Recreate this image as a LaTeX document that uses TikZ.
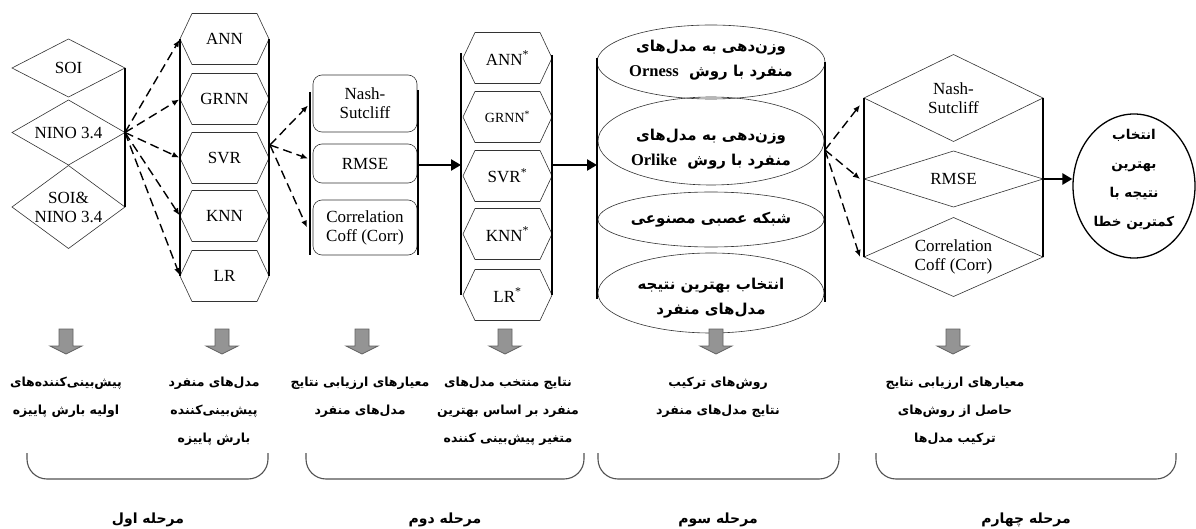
\documentclass[tikz,border=0pt]{standalone}
\usepackage{fontspec}
\setmainfont{Liberation Serif}
\newfontfamily\arabicfont[Script=Arabic]{DejaVu Sans}
\TeXXeTstate=1
\usetikzlibrary{shapes.geometric,arrows.meta,calc}
\newcommand{\rtl}[1]{\beginR #1\endR}
\newcommand{\latb}[1]{\beginL{\rmfamily\bfseries\fontsize{16.5}{18}\selectfont #1}\endL}
\newcommand{\dmd}[3]{\draw[shapeline, shift={(#1.center)}] (-#2,0) coordinate (#1-w) -- (0,-#3) -- (#2,0) coordinate (#1-e) -- (0,#3) -- cycle;}
\newcommand{\hexa}[1]{\draw[shapeline, shift={(#1.center)}] (-44.5,0) coordinate (#1-w) -- (-32.5,-25.5) -- (32.5,-25.5) -- (44.5,0) coordinate (#1-e) -- (32.5,25.5) -- (-32.5,25.5) -- cycle;}
\newcommand{\garrow}[2]{\draw[grayarr, shift={(#1,#2)}] (-7,0) -- (7,0) -- (7,17) -- (16,17) -- (0,25) -- (-16,17) -- (-7,17) -- cycle;}
\tikzset{
 shapeline/.style={draw=black!80, line width=0.6pt},
 colline/.style={line width=1.6pt, draw=black},
 dasharrow/.style={line width=1.4pt, dash pattern=on 9pt off 5pt, -{Latex[length=7pt,width=6pt]}},
 thickarrow/.style={line width=2.8pt, -{Triangle[length=10pt,width=11pt]}},
 lat/.style={font=\fontsize{17}{19}\selectfont, inner sep=0pt, align=center},
 latsm/.style={font=\fontsize{14}{16}\selectfont, inner sep=0pt, align=center},
 fa/.style={font=\arabicfont\bfseries\fontsize{12.5}{28}\selectfont, inner sep=0pt, align=center},
 facyl/.style={font=\arabicfont\bfseries\fontsize{15}{25}\selectfont, inner sep=0pt, align=center},
 stage/.style={font=\arabicfont\bfseries\fontsize{14}{16}\selectfont, inner sep=0pt},
 grayarr/.style={fill=black!42, draw=black!62, line width=0.8pt},
 bracket/.style={draw=black!68, line width=1.1pt, rounded corners=20pt},
 roundbox/.style={draw=black!80, line width=0.6pt, rounded corners=9pt, minimum width=104pt, inner sep=0pt, lat},
}
\begin{document}
\begin{tikzpicture}[x=1pt,y=-1pt]
\useasboundingbox (0,0) rectangle (1196,529);
\fill[white] (0,0) rectangle (1196,529);

% ---- column 1: predictors (diamonds)
\node[lat] (soi) at (68.5,68) {SOI};
\node[lat] (nino) at (68.5,132.5) {NINO 3.4};
\node[lat] (soinino) at (68.5,207) {SOI\&\\NINO 3.4};
\dmd{soi}{56.5}{29}
\dmd{nino}{56.5}{32.5}
\dmd{soinino}{56.5}{41.5}
\draw[colline] (soi-e) -- (soinino-e);

% ---- column 2: individual models
\node[lat] (ann) at (224.5,39) {ANN};
\node[lat] (grnn) at (224.5,99) {GRNN};
\node[lat] (svr) at (224.5,158) {SVR};
\node[lat] (knn) at (224.5,216) {KNN};
\node[lat] (lr) at (224.5,276) {LR};
\hexa{ann}\hexa{grnn}\hexa{svr}\hexa{knn}\hexa{lr}
\draw[colline] (ann-w) -- (lr-w);
\draw[colline] (ann-e) -- (lr-e);

\foreach \t in {ann,grnn,svr,knn,lr}
  \draw[dasharrow, shorten >=1pt] (nino-e) -- (\t-w);

% ---- column 3: evaluation criteria (rounded boxes)
\node[roundbox, minimum height=57pt] (nash) at (365,103.5) {Nash-\\Sutcliff};
\node[roundbox, minimum height=39pt] (rmse) at (365,163.5) {RMSE};
\node[roundbox, minimum height=55pt] (corr) at (365,227.5) {Correlation\\Coff (Corr)};
\coordinate (c3l) at (310,92);
\coordinate (c3lb) at (310,255);
\coordinate (c3r) at (418,90);
\coordinate (c3rb) at (418,255);
\draw[colline] (c3l) -- (c3lb);
\draw[colline] (c3r) -- (c3rb);
\coordinate (svrout) at (270,145);
\draw[dasharrow] (svrout) -- ($(nash.west -| c3l)+(-2,2)$);
\draw[dasharrow] (svrout) -- ($(rmse.west -| c3l)+(-2,-5)$);
\draw[dasharrow] (svrout) -- ($(corr.west -| c3l)+(-3,0)$);

% ---- column 4: selected models
\node[lat] (ann2) at (507.5,58) {ANN\textsuperscript{*}};
\node[latsm] (grnn2) at (507.5,117) {GRNN\textsuperscript{*}};
\node[lat] (svr2) at (507.5,176) {SVR\textsuperscript{*}};
\node[lat] (knn2) at (507.5,234) {KNN\textsuperscript{*}};
\node[lat] (lr2) at (507.5,295) {LR\textsuperscript{*}};
\hexa{ann2}\hexa{grnn2}\hexa{svr2}\hexa{knn2}\hexa{lr2}
\draw[colline] ($(ann2-w)+(-2,-5)$) coordinate (c4l) -- ($(lr2-w)+(-2,0)$);
\draw[colline] ($(ann2-e)+(0,-3)$) coordinate (c4r) -- (lr2-e);
\draw[thickarrow] (418,165) coordinate (a1s) -- (a1s -| c4l);

% ---- column 5: combination methods (cylinder)
\node[ellipse, shapeline, minimum width=228pt, minimum height=74pt, inner sep=0pt] (orness) at (711,62) {};
\node[ellipse, shapeline, minimum width=226pt, minimum height=88pt, inner sep=0pt] (orlike) at (711,141) {};
\node[ellipse, shapeline, minimum width=226pt, minimum height=55pt, inner sep=0pt] (ann3) at (711,219.5) {};
\node[ellipse, shapeline, minimum width=226pt, minimum height=80pt, inner sep=0pt] (best) at (711,293) {};
\node[facyl] (tor) at (711,60) {\rtl{وزن^^^^200cدهی به مدل^^^^200cهای}\\\rtl{منفرد با روش \ \latb{Orness}}};
\node[facyl] (tol) at (711,149.5) {\rtl{وزن^^^^200cدهی به مدل^^^^200cهای}\\\rtl{منفرد با روش \ \latb{Orlike}}};
\node[facyl] (tann) at (711,220) {\rtl{شبکه عصبی مصنوعی}};
\node[facyl] (tbest) at (711,298.5) {\rtl{انتخاب بهترین نتیجه}\\\rtl{مدل^^^^200cهای منفرد}};
\coordinate (cyll) at (597,58);
\coordinate (cyllb) at (597,299);
\coordinate (cylr) at (825,62);
\coordinate (cylrb) at (825,302);
\draw[colline] (cyll) -- (cyllb);
\draw[colline] (cylr) -- (cylrb);
\draw[thickarrow] (c4r |- a1s) coordinate (a2s) -- (a2s -| cyll);

% ---- column 6: evaluation of combination methods (diamonds)
\node[lat] (nash2) at (953.5,98) {Nash-\\Sutcliff};
\node[lat] (rmse2) at (953.5,179) {RMSE};
\node[lat] (corr2) at (953.5,257) {Correlation\\Coff (Corr)};
\dmd{nash2}{89.5}{43.5}
\dmd{rmse2}{89.5}{28}
\dmd{corr2}{89.5}{39.5}
\draw[colline] (nash2-w) -- (corr2-w);
\draw[colline] (nash2-e) -- (corr2-e);
\coordinate (orout) at (825,150);
\draw[dasharrow] (orout) -- ($(nash2-w)+(-4,7)$);
\draw[dasharrow] (orout) -- ($(rmse2-w)+(-4,0)$);
\draw[dasharrow] (orout) -- ($(corr2-w)+(-4,0)$);

% ---- final result
\node[ellipse, draw=black, line width=1.3pt, minimum width=122pt, minimum height=144pt, inner sep=0pt] (final) at (1134,186) {};
\node[fa, font=\arabicfont\bfseries\fontsize{13.5}{29}\selectfont] (tfinal) at (1134,180) {\rtl{انتخاب}\\\rtl{بهترین}\\\rtl{نتیجه با}\\\rtl{کمترین خطا}};
\draw[thickarrow] (rmse2-e) -- (rmse2-e -| final.west);

% ---- gray arrows
\garrow{66}{329}
\garrow{222}{329}
\garrow{362}{329}
\garrow{505}{329}
\garrow{716}{329}
\garrow{953}{329}

% ---- descriptions
\node[fa] (d1) at (66,397) {\rtl{پیش^^^^200cبینی^^^^200cکننده^^^^200cهای}\\\rtl{اولیه بارش پاییزه}};
\node[fa] (d2) at (214,411) {\rtl{مدل^^^^200cهای منفرد}\\\rtl{پیش^^^^200cبینی^^^^200cکننده}\\\rtl{بارش پاییزه}};
\node[fa] (d3) at (360,397) {\rtl{معیارهای ارزیابی نتایج}\\\rtl{مدل^^^^200cهای منفرد}};
\node[fa] (d4) at (508,411) {\rtl{نتایج منتخب مدل^^^^200cهای}\\\rtl{منفرد بر اساس بهترین}\\\rtl{متغیر پیش^^^^200cبینی کننده}};
\node[fa] (d5) at (718,397) {\rtl{روش^^^^200cهای ترکیب}\\\rtl{نتایج مدل^^^^200cهای منفرد}};
\node[fa] (d6) at (955,411) {\rtl{معیارهای ارزیابی نتایج}\\\rtl{حاصل از روش^^^^200cهای}\\\rtl{ترکیب مدل^^^^200cها}};

% ---- brackets
\draw[bracket] (27,453) -- (27,479) -- (268,479) -- (268,453);
\draw[bracket] (306,453) -- (306,479) -- (584,479) -- (584,453);
\draw[bracket] (598,453) -- (598,479) -- (839,479) -- (839,453);
\draw[bracket] (876,453) -- (876,479) -- (1176,479) -- (1176,453);

% ---- stage labels
\node[stage] (s1) at (148,520) {\rtl{مرحله اول}};
\node[stage] (s2) at (445,520) {\rtl{مرحله دوم}};
\node[stage] (s3) at (718,520) {\rtl{مرحله سوم}};
\node[stage] (s4) at (1026,520) {\rtl{مرحله چهارم}};
\end{tikzpicture}
\end{document}
